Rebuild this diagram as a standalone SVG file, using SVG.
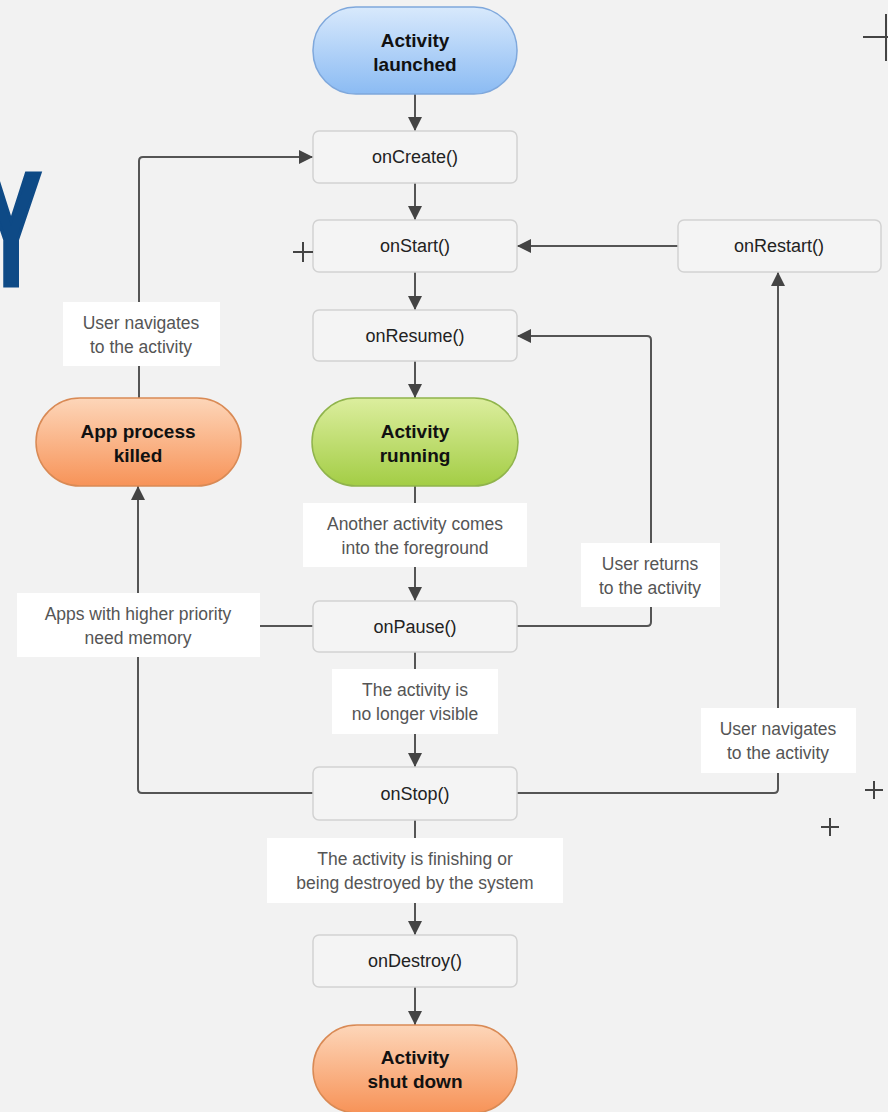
<svg xmlns="http://www.w3.org/2000/svg" width="888" height="1112" viewBox="0 0 888 1112">
<defs>
<style>
.box{fill:#f4f4f4;stroke:#d2d2d2;stroke-width:1.5}
.lbl{fill:#ffffff}
.t{font-family:"Liberation Sans",Arial,sans-serif;font-size:18px;fill:#222;text-anchor:middle}
.b{font-family:"Liberation Sans",Arial,sans-serif;font-size:19px;font-weight:bold;fill:#111;text-anchor:middle}
.l{font-family:"Liberation Sans",Arial,sans-serif;font-size:17.5px;fill:#555;text-anchor:middle}
.c{fill:none;stroke:#555;stroke-width:2}
.ca{fill:none;stroke:#555;stroke-width:2;marker-end:url(#ah)}
.x{stroke:#444;stroke-width:2}
</style>
<marker id="ah" markerUnits="userSpaceOnUse" markerWidth="14" markerHeight="14" refX="14" refY="7" orient="auto">
<path d="M0,0 L14,7 L0,14 z" fill="#444"/>
</marker>
<linearGradient id="gb" x1="0" y1="0" x2="0" y2="1"><stop offset="0" stop-color="#d8e9fc"/><stop offset="1" stop-color="#8bbbf3"/></linearGradient>
<linearGradient id="gg" x1="0" y1="0" x2="0" y2="1"><stop offset="0" stop-color="#dcee9e"/><stop offset="1" stop-color="#a3cd45"/></linearGradient>
<linearGradient id="go" x1="0" y1="0" x2="0" y2="1"><stop offset="0" stop-color="#fdd6b9"/><stop offset="1" stop-color="#f79358"/></linearGradient>
</defs>
<rect width="888" height="1112" fill="#f2f2f2"/>

<text transform="translate(11,285) scale(0.56,1)" font-family="Liberation Sans,Arial,sans-serif" font-weight="bold" font-size="161" fill="#0e4a86" stroke="#0e4a86" stroke-width="5" stroke-linejoin="miter" text-anchor="middle">Y</text>

<g id="connectors">
<path class="ca" d="M415 94 V131"/>
<path class="ca" d="M415 183 V220"/>
<path class="ca" d="M415 272 V310"/>
<path class="ca" d="M415 361 V398"/>
<path class="c" d="M415 486 V503"/>
<path class="ca" d="M415 567 V601"/>
<path class="c" d="M415 652 V669"/>
<path class="ca" d="M415 734 V767"/>
<path class="c" d="M415 820 V838"/>
<path class="ca" d="M415 903 V935"/>
<path class="ca" d="M415 987 V1025"/>
<path class="ca" d="M678 246 H517"/>
<path class="ca" d="M517 626 H647 Q651 626 651 622 V340 Q651 336 647 336 H517"/>
<path class="ca" d="M517 793 H774 Q778 793 778 789 V272"/>
<path class="c" d="M313 626 H260"/>
<path class="ca" d="M313 793 H142 Q138 793 138 789 V486"/>
<path class="ca" d="M139 398 V161 Q139 157 143 157 H313"/>
</g>

<g id="lbl-user-nav-left"><rect class="lbl" x="63" y="302" width="157" height="64"/><text class="l" x="141" y="329">User navigates</text><text class="l" x="141" y="353">to the activity</text></g>
<g id="lbl-another"><rect class="lbl" x="303" y="503" width="224" height="64"/><text class="l" x="415" y="530">Another activity comes</text><text class="l" x="415" y="554">into the foreground</text></g>
<g id="lbl-user-returns"><rect class="lbl" x="581" y="543" width="139" height="64"/><text class="l" x="650" y="570">User returns</text><text class="l" x="650" y="594">to the activity</text></g>
<g id="lbl-apps"><rect class="lbl" x="17" y="593" width="243" height="64"/><text class="l" x="138" y="620">Apps with higher priority</text><text class="l" x="138" y="644">need memory</text></g>
<g id="lbl-not-visible"><rect class="lbl" x="332" y="669" width="166" height="65"/><text class="l" x="415" y="696">The activity is</text><text class="l" x="415" y="720">no longer visible</text></g>
<g id="lbl-user-nav-right"><rect class="lbl" x="701" y="708" width="155" height="65"/><text class="l" x="778" y="735">User navigates</text><text class="l" x="778" y="759">to the activity</text></g>
<g id="lbl-finishing"><rect class="lbl" x="267" y="838" width="296" height="65"/><text class="l" x="415" y="865">The activity is finishing or</text><text class="l" x="415" y="889">being destroyed by the system</text></g>

<g id="activity-launched"><rect x="313" y="7" width="204" height="87" rx="43" fill="url(#gb)" stroke="#7fa8dc" stroke-width="1.5"/><text class="b" x="415" y="47">Activity</text><text class="b" x="415" y="71">launched</text></g>
<g id="onCreate"><rect class="box" x="313" y="131" width="204" height="52" rx="6"/><text class="t" x="415" y="163">onCreate()</text></g>
<g id="onStart"><rect class="box" x="313" y="220" width="204" height="52" rx="6"/><text class="t" x="415" y="252">onStart()</text></g>
<g id="onResume"><rect class="box" x="313" y="310" width="204" height="51" rx="6"/><text class="t" x="415" y="342">onResume()</text></g>
<g id="activity-running"><rect x="312" y="398" width="206" height="88" rx="44" fill="url(#gg)" stroke="#90b44c" stroke-width="1.5"/><text class="b" x="415" y="438">Activity</text><text class="b" x="415" y="462">running</text></g>
<g id="onPause"><rect class="box" x="313" y="601" width="204" height="51" rx="6"/><text class="t" x="415" y="633">onPause()</text></g>
<g id="onStop"><rect class="box" x="313" y="767" width="204" height="53" rx="6"/><text class="t" x="415" y="800">onStop()</text></g>
<g id="onDestroy"><rect class="box" x="313" y="935" width="204" height="52" rx="6"/><text class="t" x="415" y="967">onDestroy()</text></g>
<g id="activity-shut-down"><rect x="313" y="1025" width="204" height="88" rx="44" fill="url(#go)" stroke="#d98a55" stroke-width="1.5"/><text class="b" x="415" y="1064">Activity</text><text class="b" x="415" y="1088">shut down</text></g>
<g id="onRestart"><rect class="box" x="678" y="220" width="203" height="52" rx="6"/><text class="t" x="779" y="252">onRestart()</text></g>
<g id="app-process-killed"><rect x="36" y="398" width="205" height="88" rx="44" fill="url(#go)" stroke="#d98a55" stroke-width="1.5"/><text class="b" x="138" y="438">App process</text><text class="b" x="138" y="462">killed</text></g>

<g id="marks">
<path class="x" d="M293 252 H313 M303 242 V262"/>
<path class="x" d="M863 37 H888" stroke-width="3"/>
<path class="x" d="M886 14 V61" stroke-width="3"/>
<path class="x" d="M865 790 H883 M874 781 V799"/>
<path class="x" d="M821 827 H839 M830 818 V836"/>
</g>
</svg>
